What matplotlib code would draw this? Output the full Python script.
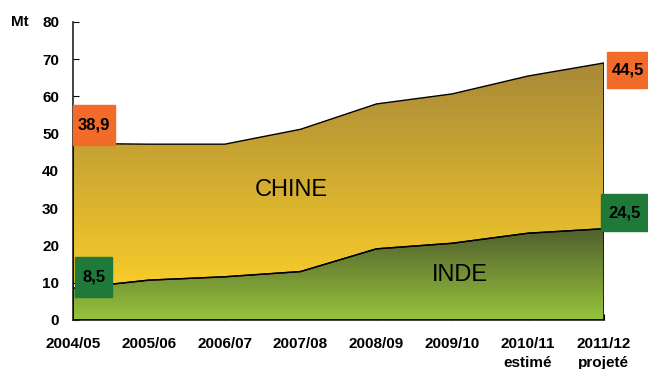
import numpy as np
import matplotlib.pyplot as plt
from matplotlib.colors import LinearSegmentedColormap
from matplotlib.patches import Rectangle

plt.rcParams['font.family'] = ['Liberation Sans', 'DejaVu Sans']

years = ['2004/05', '2005/06', '2006/07', '2007/08', '2008/09', '2009/10',
         '2010/11\nestimé', '2011/12\nprojeté']
inde = [8.5, 10.7, 11.6, 13.0, 19.1, 20.6, 23.3, 24.5]
chine = [38.9, 36.5, 35.6, 38.2, 38.9, 40.1, 42.2, 44.5]

x = np.arange(len(years))
inde = np.array(inde)
total = inde + np.array(chine)

fig = plt.figure(figsize=(6.48, 3.69), dpi=100)
ax = fig.add_axes([0.1127, 0.1328, 0.8193, 0.8076])

def gradient_fill(lo, hi, c_bot, c_top, y0, y1):
    poly = ax.fill_between(x, lo, hi, facecolor='none', edgecolor='black', linewidth=1, zorder=3)
    cmap = LinearSegmentedColormap.from_list('g', [c_bot, c_top])
    grad = np.linspace(0, 1, 256).reshape(-1, 1)
    im = ax.imshow(grad, cmap=cmap, aspect='auto', origin='lower',
                   extent=[x[0], x[-1], y0, y1], zorder=2)
    im.set_clip_path(poly.get_paths()[0], transform=ax.transData)

gradient_fill(inde, total, '#F7CB2A', '#A68838', 10, 70)
gradient_fill(np.zeros(len(x)), inde, '#96C43C', '#4F5C2D', 0, 25)

ax.set_xlim(0, 7)
ax.set_ylim(0, 80)
ax.set_yticks(range(0, 81, 10))
ax.set_xticks(x)
ax.set_xticklabels(years, fontweight='bold', fontsize=11, linespacing=1.45)
for lab in ax.get_yticklabels():
    lab.set_fontweight('bold')
    lab.set_fontsize(11)
ax.tick_params(axis='x', direction='in', length=4, pad=12)
ax.tick_params(axis='y', direction='in', length=4, pad=10)
ax.spines['top'].set_visible(False)
ax.spines['right'].set_visible(False)
for s in ['left', 'bottom']:
    ax.spines[s].set_linewidth(1.2)
    ax.spines[s].set_color('#222222')

fig.text(20 / 648, 1 - 22 / 369, 'Mt', fontweight='bold', fontsize=11, ha='center', va='center')

ax.text(2.88, 35, 'CHINE', fontsize=17, ha='center', va='center', zorder=5)
ax.text(5.1, 12, 'INDE', fontsize=17, ha='center', va='center', zorder=5)

def box(x0, y0, w, h, txt, color):
    ax.add_patch(Rectangle((x0, y0), w, h, facecolor=color, edgecolor=color,
                           zorder=6, clip_on=False))
    ax.text(x0 + w / 2, y0 + h / 2, txt, fontsize=12, fontweight='bold',
            ha='center', va='center', zorder=7, clip_on=False)

box(0.0, 47.0, 0.55, 10.7, '38,9', '#F26B2A')
box(0.03, 6.2, 0.49, 10.7, '8,5', '#1F7A3A')
box(7.04, 62.3, 0.56, 9.6, '44,5', '#F26B2A')
box(6.96, 23.9, 0.62, 9.9, '24,5', '#1F7A3A')

plt.savefig('out.png', dpi=100)
